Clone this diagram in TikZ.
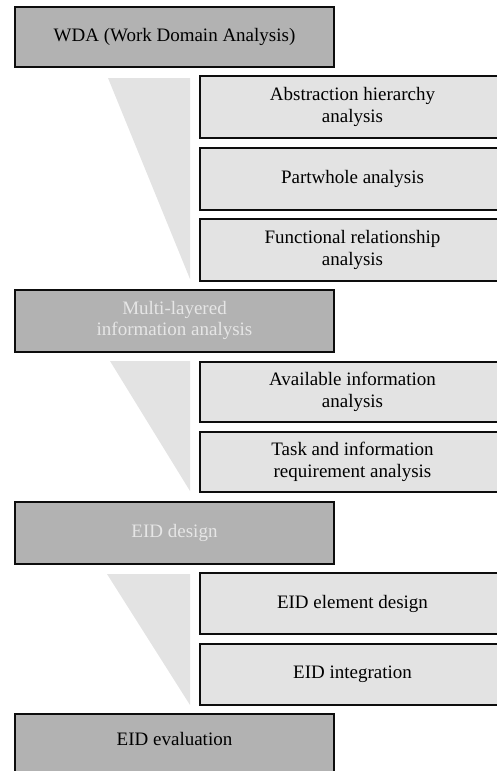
\documentclass[tikz,border=0pt]{standalone}
\usepackage{fontspec}
\setmainfont{Liberation Serif}
\definecolor{mainfill}{HTML}{B2B2B2}
\definecolor{subfill}{HTML}{E3E3E3}
\definecolor{lighttext}{HTML}{E6E6E6}
\begin{document}
\begin{tikzpicture}[x=1pt,y=-1pt,
  box/.style={draw=black!95, line width=2pt, rectangle, inner sep=0pt, align=center,
    font=\fontsize{19}{21.5}\selectfont},
  mainbox/.style={box, fill=mainfill, minimum width=319pt, minimum height=60pt},
  subbox/.style={box, fill=subfill, minimum width=305pt, minimum height=61pt},
  wedge/.style={fill=subfill, draw=none}]
\path[use as bounding box, clip] (0,0) rectangle (497,771);
% wedges
\fill[wedge] (108,78) -- (190,78) -- (190,279) -- cycle;
\fill[wedge] (110,361) -- (190,361) -- (190,491) -- cycle;
\fill[wedge] (107,574) -- (190,574) -- (190,705) -- cycle;
% main boxes
\node[mainbox] (wda) at (174.5,37) {WDA (Work Domain Analysis)};
\node[mainbox, minimum height=62pt, text=lighttext] (mla) at (174.5,320.5) {Multi-layered\\information analysis};
\node[mainbox, minimum height=62pt, text=lighttext] (eid) at (174.5,533) {EID design};
\node[mainbox, minimum height=70pt, anchor=north] (eval) at (174.5,713) {};
\node[font=\fontsize{19}{21.5}\selectfont] (evaltxt) at (174.5,739) {EID evaluation};
% sub boxes
\node[subbox, minimum height=62pt] (ah) at (352.5,107) {Abstraction hierarchy\\analysis};
\node[subbox, minimum height=62pt] (pw) at (352.5,179) {Partwhole analysis};
\node[subbox, minimum height=62pt] (fr) at (352.5,250) {Functional relationship\\analysis};
\node[subbox, minimum height=60pt] (ai) at (352.5,392) {Available information\\analysis};
\node[subbox, minimum height=60pt] (ti) at (352.5,462) {Task and information\\requirement analysis};
\node[subbox, minimum height=61pt] (ed) at (352.5,603.5) {EID element design};
\node[subbox, minimum height=61pt] (ei) at (352.5,674.5) {EID integration};
\end{tikzpicture}
\end{document}
